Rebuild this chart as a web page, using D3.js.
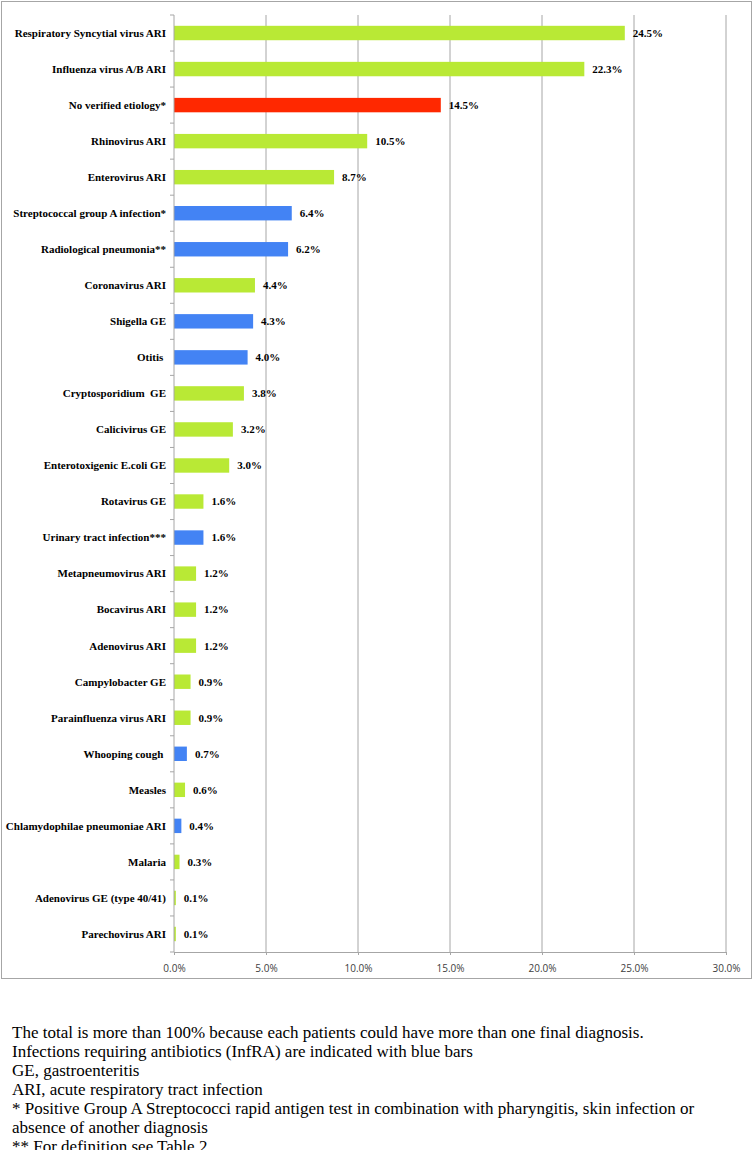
<!DOCTYPE html>
<html>
<head>
<meta charset="utf-8">
<script src="https://cdn.jsdelivr.net/npm/d3@7"></script>
<style>
  body { margin: 0; background: #fff; }
  svg text { white-space: pre; }
</style>
</head>
<body>
<script>
// data
var categories = [
  "Respiratory Syncytial virus ARI", "Influenza virus A/B ARI", "No verified etiology*",
  "Rhinovirus ARI", "Enterovirus ARI", "Streptococcal group A infection*",
  "Radiological pneumonia**", "Coronavirus ARI", "Shigella GE", "Otitis ",
  "Cryptosporidium  GE", "Calicivirus GE", "Enterotoxigenic E.coli GE", "Rotavirus GE",
  "Urinary tract infection***", "Metapneumovirus ARI", "Bocavirus ARI", "Adenovirus ARI",
  "Campylobacter GE", "Parainfluenza virus ARI", "Whooping cough ", "Measles",
  "Chlamydophilae pneumoniae ARI", "Malaria", "Adenovirus GE (type 40/41)", "Parechovirus ARI"
];
var values = [24.5, 22.3, 14.5, 10.5, 8.7, 6.4, 6.2, 4.4, 4.3, 4.0, 3.8, 3.2, 3.0, 1.6,
  1.6, 1.2, 1.2, 1.2, 0.9, 0.9, 0.7, 0.6, 0.4, 0.3, 0.1, 0.1];
// g = not needing antibiotics, b = InfRA (blue), r = no verified etiology
var groups = ["g", "g", "r", "g", "g", "b", "b", "g", "b", "b", "g", "g", "g", "g",
  "b", "g", "g", "g", "g", "g", "b", "g", "b", "g", "g", "g"];
var xTicks = [0, 5, 10, 15, 20, 25, 30];
var footnotes = [
  "The total is more than 100% because each patients could have more than one final diagnosis.",
  "Infections requiring antibiotics (InfRA) are indicated with blue bars",
  "GE, gastroenteritis",
  "ARI, acute respiratory tract infection",
  "* Positive Group A Streptococci rapid antigen test in combination with pharyngitis, skin infection or",
  "absence of another diagnosis",
  "** For definition see Table 2."
];

var width = 754, height = 1150;
var colors = {g: "#b9e935", b: "#4383f4", r: "#ff2800"};

var svg = d3.select("body").append("svg")
  .attr("width", width)
  .attr("height", height);

// chart frame
svg.append("rect")
  .attr("x", 1.5).attr("y", 1.5)
  .attr("width", 750).attr("height", 977)
  .attr("fill", "#fff")
  .attr("stroke", "#a6a6a6");

var x = d3.scaleLinear().domain([0, 30]).range([174, 726]);
var y = d3.scaleBand().domain(categories).range([15, 952]).paddingInner(0.6).paddingOuter(0.3);

// gridlines
svg.selectAll(".grid")
  .data(xTicks.slice(1))
  .enter().append("line")
  .attr("x1", function (d) { return x(d); })
  .attr("x2", function (d) { return x(d); })
  .attr("y1", 15).attr("y2", 952)
  .attr("stroke", "#a6a6a6");

// bars
svg.selectAll(".bar")
  .data(values)
  .enter().append("rect")
  .attr("x", x(0))
  .attr("y", function (d, i) { return y(categories[i]); })
  .attr("width", function (d) { return x(d) - x(0); })
  .attr("height", y.bandwidth())
  .attr("fill", function (d, i) { return colors[groups[i]]; });

// value labels
svg.selectAll(".val")
  .data(values)
  .enter().append("text")
  .attr("x", function (d) { return x(d) + 8; })
  .attr("y", function (d, i) { return y(categories[i]) + y.bandwidth() / 2; })
  .attr("dy", "0.35em")
  .style("font", "bold 11px 'Liberation Serif', 'Times New Roman', serif")
  .attr("fill", "#000")
  .text(function (d) { return d.toFixed(1) + "%"; });

// y axis
var yAxis = svg.append("g");
yAxis.append("line")
  .attr("x1", x(0)).attr("x2", x(0))
  .attr("y1", 15).attr("y2", 952)
  .attr("stroke", "#a6a6a6");
yAxis.selectAll(".ytick")
  .data(d3.range(categories.length + 1))
  .enter().append("line")
  .attr("x1", x(0) - 4).attr("x2", x(0))
  .attr("y1", function (d) { return 15 + d * (937 / categories.length); })
  .attr("y2", function (d) { return 15 + d * (937 / categories.length); })
  .attr("stroke", "#a6a6a6");
yAxis.selectAll(".ylab")
  .data(categories)
  .enter().append("text")
  .attr("x", x(0) - 8)
  .attr("y", function (d) { return y(d) + y.bandwidth() / 2; })
  .attr("dy", "0.35em")
  .attr("text-anchor", "end")
  .style("font", "bold 11px 'Liberation Serif', 'Times New Roman', serif")
  .attr("fill", "#000")
  .text(function (d) { return d; });

// x axis
var xAxis = svg.append("g")
  .attr("transform", "translate(0,952)")
  .call(d3.axisBottom(x).tickValues(xTicks).tickSize(3).tickPadding(10)
    .tickFormat(function (d) { return d.toFixed(1) + "%"; }));
xAxis.select(".domain").attr("stroke", "#a6a6a6");
xAxis.selectAll(".tick line").attr("stroke", "#a6a6a6");
xAxis.selectAll(".tick text")
  .style("font", "10px 'Open Sans', 'DejaVu Sans', sans-serif")
  .attr("fill", "#404040");

// footnotes
svg.selectAll(".note")
  .data(footnotes)
  .enter().append("text")
  .attr("x", 12)
  .attr("y", function (d, i) { return 1038 + i * 19; })
  .style("font", "17px 'Liberation Serif', 'Times New Roman', serif")
  .attr("fill", "#000")
  .text(function (d) { return d; });
</script>
</body>
</html>
